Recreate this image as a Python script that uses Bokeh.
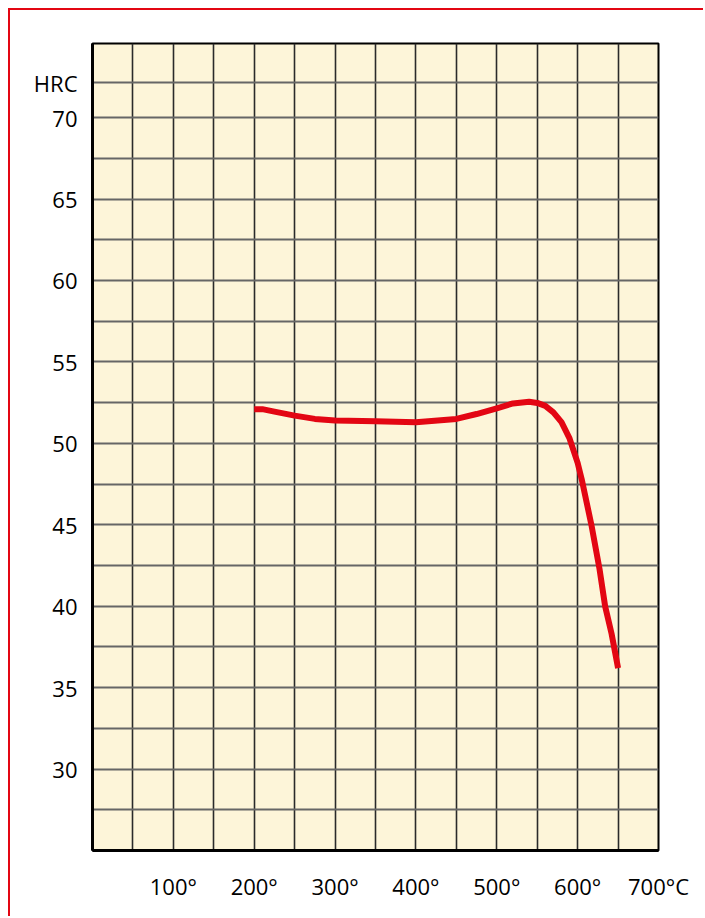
from bokeh.plotting import figure
from bokeh.models import FixedTicker, Range1d
from bokeh.embed import file_html
from bokeh.resources import INLINE

# Tempering curve: temperature (°C) vs hardness (HRC)
temp = [200, 210, 225, 250, 275, 300, 350, 400, 450, 475, 500, 520, 540, 550,
        560, 570, 580, 590, 600, 605, 617, 627, 634, 642, 650]
hrc = [52.1, 52.1, 51.95, 51.7, 51.5, 51.4, 51.35, 51.3, 51.5, 51.8, 52.15, 52.45, 52.55,
       52.48, 52.3, 51.9, 51.3, 50.3, 48.8, 47.8, 45.0, 42.3, 40.0, 38.3, 36.2]

x_tick_vals = [100, 200, 300, 400, 500, 600, 700]
x_tick_labels = ["100°", "200°", "300°", "400°", "500°", "600°", "700°C"]
y_tick_vals = [30, 35, 40, 45, 50, 55, 60, 65, 70, 72.15]
y_tick_labels = ["30", "35", "40", "45", "50", "55", "60", "65", "70", "HRC"]
x_grid_vals = list(range(50, 700, 50))
y_grid_vals = [27.5, 30, 32.5, 35, 37.5, 40, 42.5, 45, 47.5, 50, 52.5, 55, 57.5,
               60, 62.5, 65, 67.5, 70, 72.15]

FONT = "Open Sans"
RED = "#E30613"

p = figure(width=695, height=908, output_backend="svg", toolbar_location=None,
           x_range=Range1d(0, 700), y_range=Range1d(25, 74.55),
           min_border_left=82, min_border_right=47, min_border_top=33,
           min_border_bottom=68)
p.styles = {"margin-left": "8px", "margin-top": "8px",
            "border-left": f"2px solid {RED}", "border-top": f"2px solid {RED}"}

p.background_fill_color = "#FDF5D9"
p.border_fill_color = "white"
p.outline_line_color = "black"
p.outline_line_width = 2

p.xgrid.ticker = FixedTicker(ticks=x_grid_vals)
p.ygrid.ticker = FixedTicker(ticks=y_grid_vals)
p.xgrid.grid_line_color = "#2a2a2a"
p.xgrid.grid_line_width = 1.6
p.ygrid.grid_line_color = "#666666"
p.ygrid.grid_line_width = 1.8

for ax in (p.xaxis[0], p.yaxis[0]):
    ax.major_tick_in = 0
    ax.major_tick_out = 0
    ax.minor_tick_in = 0
    ax.minor_tick_out = 0
    ax.axis_line_color = "black"
    ax.axis_line_width = 3
    ax.major_label_text_font = FONT
    ax.major_label_text_font_size = "22px"
    ax.major_label_text_color = "black"

p.xaxis.ticker = FixedTicker(ticks=x_tick_vals)
p.xaxis.major_label_overrides = {v: s for v, s in zip(x_tick_vals, x_tick_labels)}
p.xaxis.major_label_standoff = 20
p.yaxis.ticker = FixedTicker(ticks=y_tick_vals)
p.yaxis.major_label_overrides = {v: s for v, s in zip(y_tick_vals, y_tick_labels)}
p.yaxis.major_label_standoff = 15

p.line(temp, hrc, line_color=RED, line_width=6, line_join="round", line_cap="butt")

open("out.html", "w").write(file_html(p, INLINE))
